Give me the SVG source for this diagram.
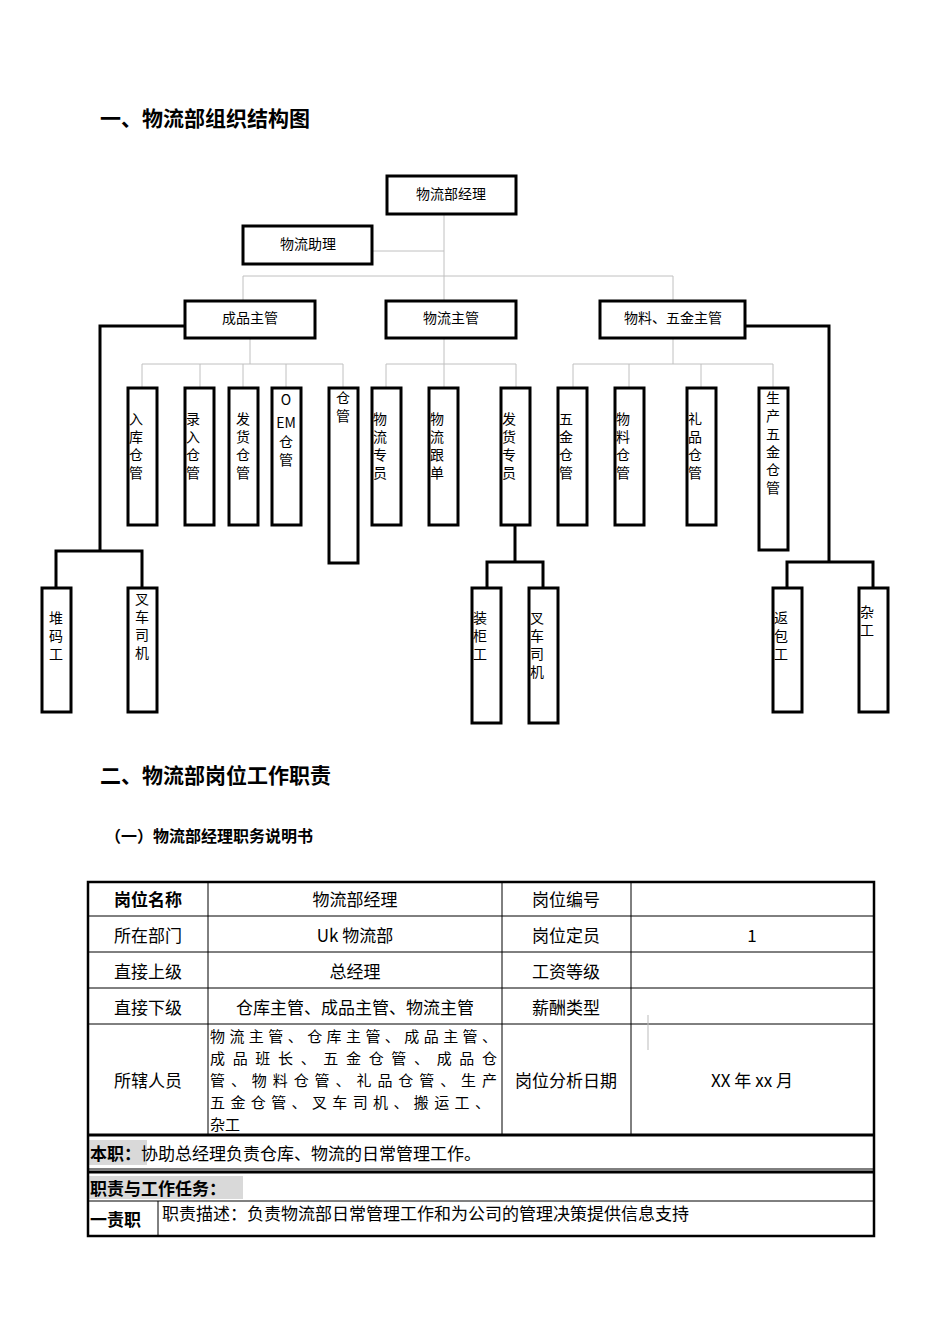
<svg xmlns="http://www.w3.org/2000/svg" width="950" height="1344" viewBox="0 0 950 1344">
<style>
.t{font-family:"Noto Sans CJK SC","Liberation Serif",serif;fill:#000}
.h{font-weight:bold}
.b{fill:#fff;stroke:#000;stroke-width:3}
.g{stroke:#c0c0c0;stroke-width:1;fill:none}
.k{stroke:#000;stroke-width:3;fill:none}
.n{font-size:14px}
.v{font-size:14px}
.c{font-size:17px}
.m{font-size:15px}
.tl{stroke:#000;stroke-width:1;fill:none}
</style>
<rect width="950" height="1344" fill="#fff"/>
<text class="t h" x="100" y="126" font-size="21">一、物流部组织结构图</text>
<text class="t h" x="100" y="783" font-size="21">二、物流部岗位工作职责</text>
<text class="t h" x="105" y="842" font-size="16">（一）物流部经理职务说明书</text>

<g id="connectors">
<path class="g" d="M444 214V301M372 251H444M243 276H673M243 276V301M673 276V301"/>
<path class="g" d="M250 339V364M142 364H343M142 364V388M200 364V388M243 364V388M286 364V388M343 364V388"/>
<path class="g" d="M444 339V364M386 364H516M386 364V388M444 364V388M516 364V388"/>
<path class="g" d="M673 339V364M573 364H773M573 364V388M629 364V388M701 364V388M773 364V388"/>
<path class="k" d="M185 326H100V551M56 588V551H142V588"/>
<path class="k" d="M515 525V562M487 588V562H543V588"/>
<path class="k" d="M745 326H829V562M787 588V562H873V588"/>
</g>

<g id="n-manager"><rect class="b" x="387" y="176" width="129" height="38"/><text class="t n" x="451" y="199" text-anchor="middle">物流部经理</text></g>
<g id="n-assist"><rect class="b" x="243" y="226" width="129" height="38"/><text class="t n" x="308" y="249" text-anchor="middle">物流助理</text></g>
<g id="n-cp"><rect class="b" x="185" y="301" width="130" height="37"/><text class="t n" x="250" y="323" text-anchor="middle">成品主管</text></g>
<g id="n-wl"><rect class="b" x="386" y="301" width="130" height="37"/><text class="t n" x="451" y="323" text-anchor="middle">物流主管</text></g>
<g id="n-wj"><rect class="b" x="600" y="301" width="145" height="37"/><text class="t n" x="673" y="323" text-anchor="middle">物料、五金主管</text></g>

<g id="n-rk"><rect class="b" x="128" y="388" width="29" height="137"/><text class="t v" x="129" y="424"><tspan x="129">入</tspan><tspan x="129" dy="18">库</tspan><tspan x="129" dy="18">仓</tspan><tspan x="129" dy="18">管</tspan></text></g>
<g id="n-lr"><rect class="b" x="185" y="388" width="29" height="137"/><text class="t v" x="186" y="424"><tspan x="186">录</tspan><tspan x="186" dy="18">入</tspan><tspan x="186" dy="18">仓</tspan><tspan x="186" dy="18">管</tspan></text></g>
<g id="n-fh"><rect class="b" x="229" y="388" width="29" height="137"/><text class="t v" x="236" y="424"><tspan x="236">发</tspan><tspan x="236" dy="18">货</tspan><tspan x="236" dy="18">仓</tspan><tspan x="236" dy="18">管</tspan></text></g>
<g id="n-oem"><rect class="b" x="272" y="388" width="29" height="137"/><text class="t v" text-anchor="middle" font-family="Liberation Serif,serif"><tspan x="286" y="405">O</tspan><tspan x="286" y="428">EM</tspan><tspan x="286" y="447">仓</tspan><tspan x="286" y="465">管</tspan></text></g>
<g id="n-cg"><rect class="b" x="329" y="388" width="29" height="175"/><text class="t v" x="336" y="403"><tspan x="336">仓</tspan><tspan x="336" dy="18">管</tspan></text></g>
<g id="n-wlzy"><rect class="b" x="372" y="388" width="29" height="137"/><text class="t v" x="373" y="424"><tspan x="373">物</tspan><tspan x="373" dy="18">流</tspan><tspan x="373" dy="18">专</tspan><tspan x="373" dy="18">员</tspan></text></g>
<g id="n-wlgd"><rect class="b" x="429" y="388" width="29" height="137"/><text class="t v" x="430" y="424"><tspan x="430">物</tspan><tspan x="430" dy="18">流</tspan><tspan x="430" dy="18">跟</tspan><tspan x="430" dy="18">单</tspan></text></g>
<g id="n-fhzy"><rect class="b" x="501" y="388" width="29" height="137"/><text class="t v" x="502" y="424"><tspan x="502">发</tspan><tspan x="502" dy="18">货</tspan><tspan x="502" dy="18">专</tspan><tspan x="502" dy="18">员</tspan></text></g>
<g id="n-wjcg"><rect class="b" x="558" y="388" width="29" height="137"/><text class="t v" x="559" y="424"><tspan x="559">五</tspan><tspan x="559" dy="18">金</tspan><tspan x="559" dy="18">仓</tspan><tspan x="559" dy="18">管</tspan></text></g>
<g id="n-wlcg"><rect class="b" x="615" y="388" width="29" height="137"/><text class="t v" x="616" y="424"><tspan x="616">物</tspan><tspan x="616" dy="18">料</tspan><tspan x="616" dy="18">仓</tspan><tspan x="616" dy="18">管</tspan></text></g>
<g id="n-lpcg"><rect class="b" x="687" y="388" width="29" height="137"/><text class="t v" x="688" y="424"><tspan x="688">礼</tspan><tspan x="688" dy="18">品</tspan><tspan x="688" dy="18">仓</tspan><tspan x="688" dy="18">管</tspan></text></g>
<g id="n-scwj"><rect class="b" x="759" y="388" width="29" height="162"/><text class="t v" x="766" y="403"><tspan x="766">生</tspan><tspan x="766" dy="18">产</tspan><tspan x="766" dy="18">五</tspan><tspan x="766" dy="18">金</tspan><tspan x="766" dy="18">仓</tspan><tspan x="766" dy="18">管</tspan></text></g>

<g id="n-dmg"><rect class="b" x="42" y="588" width="29" height="124"/><text class="t v" x="49" y="623"><tspan x="49">堆</tspan><tspan x="49" dy="18">码</tspan><tspan x="49" dy="18">工</tspan></text></g>
<g id="n-cc1"><rect class="b" x="128" y="588" width="29" height="124"/><text class="t v" x="135" y="604"><tspan x="135">叉</tspan><tspan x="135" dy="18">车</tspan><tspan x="135" dy="18">司</tspan><tspan x="135" dy="18">机</tspan></text></g>
<g id="n-zgg"><rect class="b" x="472" y="588" width="29" height="135"/><text class="t v" x="473" y="623"><tspan x="473">装</tspan><tspan x="473" dy="18">柜</tspan><tspan x="473" dy="18">工</tspan></text></g>
<g id="n-cc2"><rect class="b" x="529" y="588" width="29" height="135"/><text class="t v" x="530" y="623"><tspan x="530">叉</tspan><tspan x="530" dy="18">车</tspan><tspan x="530" dy="18">司</tspan><tspan x="530" dy="18">机</tspan></text></g>
<g id="n-fbg"><rect class="b" x="773" y="588" width="29" height="124"/><text class="t v" x="774" y="623"><tspan x="774">返</tspan><tspan x="774" dy="18">包</tspan><tspan x="774" dy="18">工</tspan></text></g>
<g id="n-zg"><rect class="b" x="859" y="588" width="29" height="124"/><text class="t v" x="860" y="617"><tspan x="860">杂</tspan><tspan x="860" dy="18">工</tspan></text></g>

<g id="table">
<rect x="88" y="1140" width="59" height="25" fill="#d9d9d9"/>
<rect x="88" y="1176" width="155" height="23" fill="#d9d9d9"/>
<path class="tl" d="M88 916H874M88 952H874M88 988H874M88 1024H874M88 1201H874M208 882V1135M502 882V1135M631 882V1135M158 1201V1236"/>
<path stroke="#000" stroke-width="3" fill="none" d="M88 1135H874M88 1172H874"/>
<path stroke="#000" stroke-width="1" fill="none" d="M88 1169H874"/>
<rect x="88" y="882" width="786" height="354" fill="none" stroke="#000" stroke-width="2.5"/>
<path stroke="#bbb" stroke-width="1" d="M648 1015V1050"/>
<g class="t c" text-anchor="middle">
<text x="148" y="906" class="h">岗位名称</text>
<text x="355" y="906">物流部经理</text>
<text x="566" y="906">岗位编号</text>
<text x="148" y="942">所在部门</text>
<text x="355" y="942">Uk 物流部</text>
<text x="566" y="942">岗位定员</text>
<text x="752" y="942">1</text>
<text x="148" y="978">直接上级</text>
<text x="355" y="978">总经理</text>
<text x="566" y="978">工资等级</text>
<text x="148" y="1014">直接下级</text>
<text x="355" y="1014">仓库主管、成品主管、物流主管</text>
<text x="566" y="1014">薪酬类型</text>
<text x="148" y="1087">所辖人员</text>
<text x="566" y="1087">岗位分析日期</text>
<text x="752" y="1087">XX 年 xx 月</text>
</g>
<g class="t m">
<text x="210" y="1042" textLength="287" lengthAdjust="spacing">物流主管、仓库主管、成品主管、</text>
<text x="210" y="1064" textLength="287" lengthAdjust="spacing">成品班长、五金仓管、成品仓</text>
<text x="210" y="1086" textLength="287" lengthAdjust="spacing">管、物料仓管、礼品仓管、生产</text>
<text x="210" y="1108" textLength="280" lengthAdjust="spacing">五金仓管、叉车司机、搬运工、</text>
<text x="210" y="1130">杂工</text>
</g>
<g class="t c">
<text x="90" y="1160"><tspan font-weight="bold">本职：</tspan>协助总经理负责仓库、物流的日常管理工作。</text>
<text x="90" y="1195" font-weight="bold">职责与工作任务：</text>
<text x="90" y="1226" font-weight="bold">一责职</text>
<text x="162" y="1220">职责描述：负责物流部日常管理工作和为公司的管理决策提供信息支持</text>
</g>
</g>
</svg>
